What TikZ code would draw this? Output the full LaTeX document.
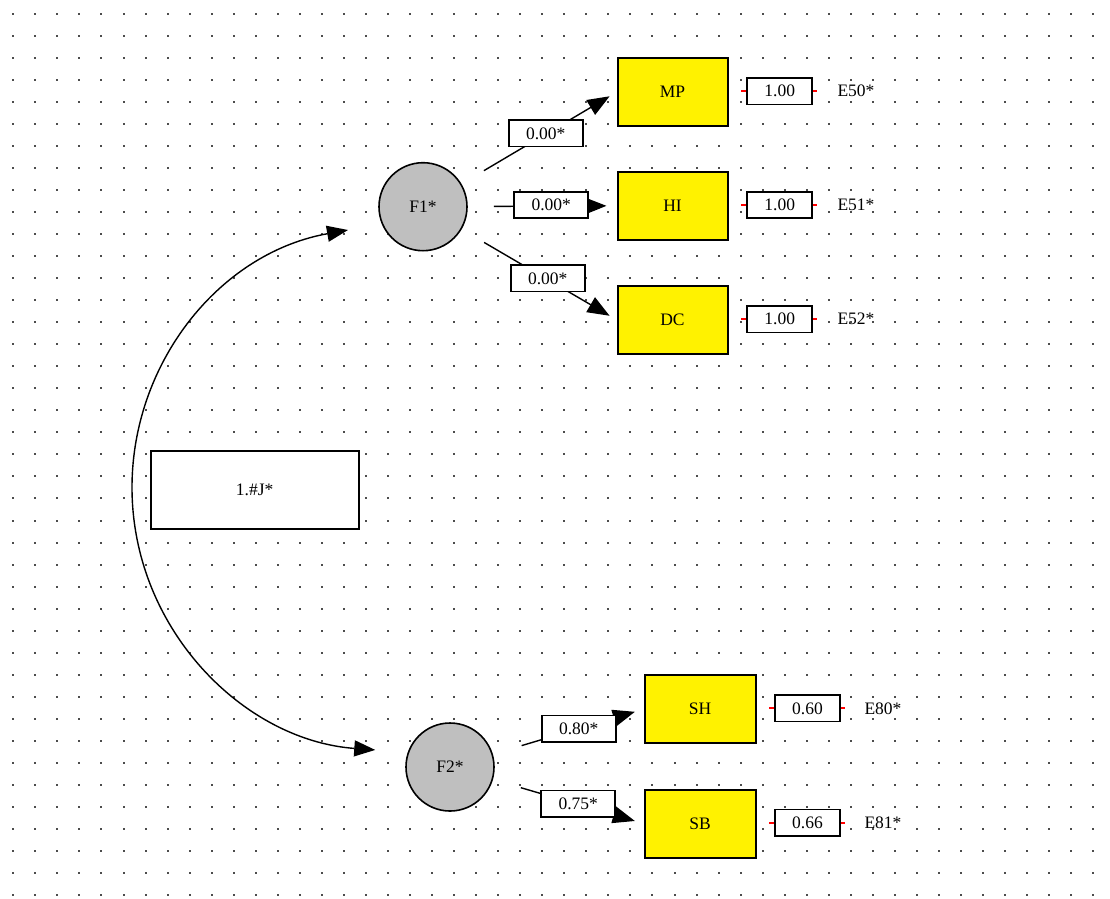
\documentclass[tikz,border=0pt]{standalone}
\usepackage{fontspec}
\setmainfont{Liberation Serif}
\usetikzlibrary{arrows.meta}
\begin{document}
\begin{tikzpicture}[x=1pt,y=-1pt,
  every node/.style={font=\fontsize{17.5}{19}\selectfont},
  factor/.style={circle,draw=black,line width=1.6pt,fill=black!25,minimum size=88pt,inner sep=0pt},
  measure/.style={rectangle,draw=black,line width=2pt,fill=yellow,minimum width=110pt,minimum height=68pt,inner sep=0pt},
  coef/.style={rectangle,draw=black,line width=1.7pt,fill=white,minimum width=74pt,minimum height=26.5pt,inner sep=0pt},
  errbox/.style={rectangle,draw=black,line width=1.7pt,fill=white,minimum width=65pt,minimum height=26.5pt,inner sep=0pt},
  errlab/.style={inner sep=0pt},
  path/.style={draw=black,line width=1.4pt,-{Triangle[length=22pt,width=17pt]}},
  redtick/.style={draw=red,line width=1.8pt},
  gdot/.style={fill=black!70}
]
\useasboundingbox (0,0) rectangle (1110,898);
\fill[white] (0,0) rectangle (1110,898);
% dot grid
\foreach \i in {0,...,49}{
  \foreach \j in {0,...,40}{
    \fill[gdot] ({13.3+22.04*\i-1},{13.6+22.04*\j-1}) rectangle ++(2,2);
  }
}
% factors
\node[factor] (F1) at (423,206.7) {F1*};
\node[factor] (F2) at (450,767) {F2*};
% measured variables
\node[measure] (MP) at (672.5,92.2) {MP};
\node[measure] (HI) at (672.5,205.8) {HI};
\node[measure] (DC) at (672.5,319.8) {DC};
\node[measure,minimum width=111pt] (SH) at (700,709.2) {SH};
\node[measure,minimum width=111pt] (SB) at (700,823.5) {SB};
% paths
\draw[path,shorten <=26pt,shorten >=8pt] (F1) -- (MP.west);
\draw[path,shorten <=26pt,shorten >=10pt] (F1) -- (HI.west);
\draw[path,shorten <=26pt,shorten >=8pt] (F1) -- (DC.west);
\draw[path,shorten <=30pt,shorten >=9pt] (F2) -- (SH.west);
\draw[path,shorten <=29pt,shorten >=9pt] (F2) -- (SB.west);
% coefficient labels
\node[coef] (lMP) at (545.7,133.3) {0.00*};
\node[coef] (lHI) at (551.3,205) {0.00*};
\node[coef] (lDC) at (547.7,278.3) {0.00*};
\node[coef] (lSH) at (578.7,728.8) {0.80*};
\node[coef] (lSB) at (578.3,803.8) {0.75*};
% error boxes
\node[errbox] (eMP) at (779.8,91.2) {1.00};
\node[errbox] (eHI) at (779.8,205) {1.00};
\node[errbox] (eDC) at (779.8,319.2) {1.00};
\node[errbox] (eSH) at (807.5,708.3) {0.60};
\node[errbox] (eSB) at (807.5,822.7) {0.66};
\foreach \e in {eMP,eHI,eDC,eSH,eSB}{
  \draw[redtick] (\e.west) -- ++(-5,0);
  \draw[redtick] (\e.east) -- ++(4,0);
}
% error labels
\node[errlab] (E50) at (856,91.2) {E50*};
\node[errlab] (E51) at (856,205) {E51*};
\node[errlab] (E52) at (856,319.2) {E52*};
\node[errlab] (E80) at (883,708.3) {E80*};
\node[errlab] (E81) at (883,822.7) {E81*};
% covariance
\coordinate (c1) at (348,230);
\coordinate (c2) at (375.3,750);
\draw[line width=1.4pt,{Triangle[length=21pt,width=16pt]}-{Triangle[length=21pt,width=16pt]}]
  (c1) arc[start angle=259.8,end angle=94.2,radius=262.4];
\node[rectangle,draw=black,line width=1.8pt,fill=white,minimum width=208pt,minimum height=77.7pt,inner sep=0pt] (cov) at (254.7,489.8) {1.\#J*};
\end{tikzpicture}
\end{document}
